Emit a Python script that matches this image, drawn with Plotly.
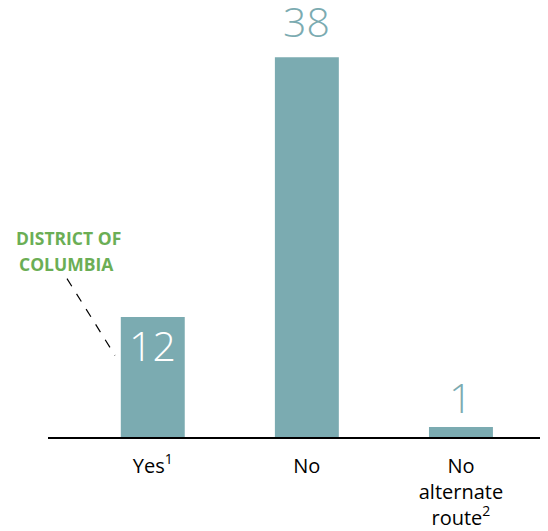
import plotly.graph_objects as go

categories = ["Yes<sup>1</sup>", "No", "No<br>alternate<br>route<sup>2</sup>"]
values = [12, 38, 1]
label_inside = [True, False, False]

TEAL = "#7BABB1"
GREEN = "#6BAE55"
FONT = "Open Sans"

x_idx = list(range(len(categories)))

fig = go.Figure()
fig.add_trace(go.Bar(
    x=x_idx, y=values, width=0.415, marker=dict(color=TEAL, line=dict(width=0)),
    hoverinfo="skip",
))

label_shift = [2, 6, 0]
for xi, v, inside, sh in zip(x_idx, values, label_inside, label_shift):
    fig.add_annotation(
        x=xi, y=v, xref="x", yref="y", text=str(v), showarrow=False,
        yanchor="top" if inside else "bottom",
        yshift=sh,
        font=dict(family=FONT, size=41, color="white" if inside else TEAL, weight=300),
    )

fig.add_annotation(x=(68.5 - 48) / 500, y=(444 - 241.5) / 424, xref="paper", yref="paper",
                   text="DISTRICT OF", showarrow=False, xanchor="center", yanchor="middle",
                   font=dict(family=FONT, size=17.5, color=GREEN, weight="bold"))
fig.add_annotation(x=(66 - 48) / 500, y=(444 - 268) / 424, xref="paper", yref="paper",
                   text="COLUMBIA", showarrow=False, xanchor="center", yanchor="middle",
                   font=dict(family=FONT, size=17.5, color=GREEN, weight="bold"))
fig.add_shape(type="line", xref="paper", yref="paper",
              x0=(67 - 48) / 500, y0=(444 - 283) / 424, x1=(115 - 48) / 500, y1=(444 - 361) / 424,
              line=dict(color="black", width=1.2, dash="dash"))

fig.update_layout(
    width=540, height=523,
    margin=dict(l=40, r=0, t=12, b=87),
    paper_bgcolor="white", plot_bgcolor="white",
    showlegend=False,
    font=dict(family=FONT, color="black"),
    xaxis=dict(
        range=[-0.68, 2.565], tickmode="array", tickvals=x_idx, ticktext=categories,
        showline=True, linecolor="black", linewidth=1.5, showgrid=False, zeroline=False,
        ticks="", tickfont=dict(size=20, family=FONT, color="black"), ticklabelstandoff=10,
    ),
    yaxis=dict(range=[0, 38 * 424 / 386], visible=False, showgrid=False, zeroline=False),
)

fig.write_html("out.html")
